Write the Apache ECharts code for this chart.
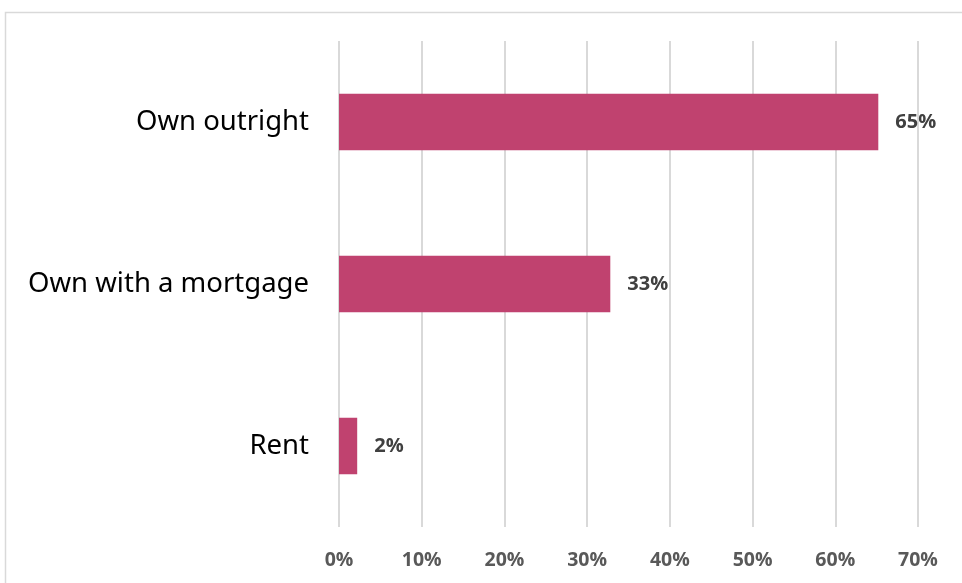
<!DOCTYPE html>
<html><head><meta charset="utf-8">
<script src="https://cdn.jsdelivr.net/npm/echarts@6/dist/echarts.min.js"></script>
<style>html,body{margin:0;padding:0;background:#fff}#c{width:962px;height:583px}</style>
</head><body><div id="c"></div>
<script>
const categories = ['Own outright', 'Own with a mortgage', 'Rent'];
const values = [65.2, 32.8, 2.2];
const valueLabels = ['65%', '33%', '2%'];
const ticks = [0, 10, 20, 30, 40, 50, 60, 70];

const chart = echarts.init(document.getElementById('c'));
chart.setOption({
  animation: false,
  graphic: [{type: 'rect', shape: {x: 5.5, y: 12.5, width: 1000, height: 700}, style: {fill: 'none', stroke: '#d9d9d9', lineWidth: 1.5}, silent: true}],
  grid: {left: 339, right: 44, top: 41, bottom: 56},
  xAxis: {
    type: 'value', min: 0, max: 70, interval: 10,
    axisLine: {show: false}, axisTick: {show: false},
    splitLine: {lineStyle: {color: '#d9d9d9', width: 2}},
    axisLabel: {formatter: v => v + '%', color: '#595959', fontWeight: 'bold', fontSize: 19.5, fontFamily: 'Open Sans', margin: 23}
  },
  yAxis: {
    type: 'category', data: categories, inverse: true,
    axisLine: {show: false}, axisTick: {show: false},
    axisLabel: {color: '#000', fontSize: 27.5, fontFamily: 'Noto Sans', margin: 30}
  },
  series: [{
    type: 'bar', data: values, barWidth: '35%',
    itemStyle: {color: '#C0426F'},
    label: {show: true, position: 'right', distance: 17, color: '#404040', fontWeight: 'bold', fontSize: 20, fontFamily: 'Open Sans',
      formatter: p => valueLabels[p.dataIndex]}
  }]
});
</script></body></html>
